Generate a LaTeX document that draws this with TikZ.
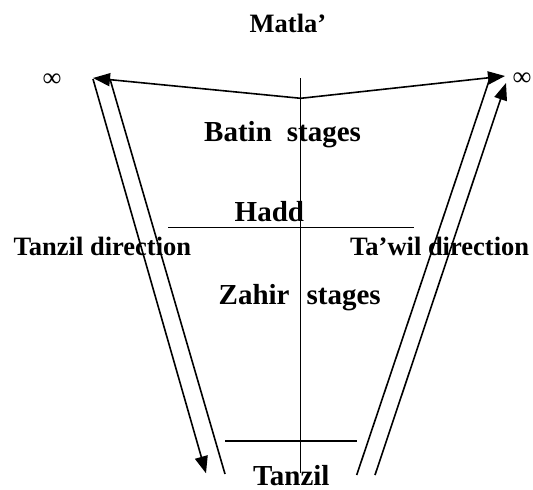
\documentclass[tikz,border=0pt]{standalone}
\usepackage{fontspec}
\setmainfont{Liberation Serif}
\usetikzlibrary{arrows.meta}
\begin{document}
\begin{tikzpicture}[x=1pt,y=1pt,
  lbl/.style={inner sep=0pt,anchor=base west,font=\fontsize{26.5}{30}\selectfont\bfseries},
  biglbl/.style={inner sep=0pt,anchor=base west,font=\fontsize{29}{32}\selectfont\bfseries},
  inf/.style={inner sep=0pt,font=\fontsize{26.5}{30}\selectfont},
  ln/.style={line width=1.6pt},
  axis/.style={line width=1.2pt},
  arr/.style={line width=1.6pt,-{Triangle[length=17pt,width=13pt]}}]
\useasboundingbox (0,0) rectangle (533,-490);
% coordinates
\coordinate (vtop) at (300.7,-78.3);
\coordinate (vbot) at (300.7,-473);
\coordinate (apex) at (300.7,-98.3);
\coordinate (tl) at (93,-78);
\coordinate (tr) at (505,-76);
\coordinate (lo1) at (93,-79);
\coordinate (lo2) at (206,-473.3);
\coordinate (li1) at (110,-79);
\coordinate (li2) at (225,-474);
\coordinate (ra1) at (356.7,-475);
\coordinate (ra2) at (490,-78);
\coordinate (rb1) at (375,-475);
\coordinate (rb2) at (506,-83);
\coordinate (h1) at (168,-227.4);
\coordinate (h2) at (414,-227.4);
\coordinate (b1) at (225,-441);
\coordinate (b2) at (356.7,-441);
% texts
\node[lbl] (matla) at (249.5,-32) {Matla’};
\node[inf] (infl) at (52,-80) {∞};
\node[inf] (infr) at (522,-79) {∞};
\node[biglbl] (batin) at (204,-141) {Batin\hspace{15pt}stages};
\node[biglbl] (hadd) at (234.5,-221) {Hadd};
\node[lbl] (tdir) at (13.5,-255.3) {Tanzil direction};
\node[lbl] (tawil) at (350,-255.3) {Ta’wil direction};
\node[biglbl] (zahir) at (218.5,-304) {Zahir\hspace{17pt}stages};
\node[biglbl] (tanzil) at (253,-485.5) {Tanzil};
% lines
\draw[axis] (vtop) -- (vbot);
\draw[arr] (apex) -- (tl);
\draw[arr] (apex) -- (tr);
\draw[arr] (lo1) -- (lo2);
\draw[ln] (li1) -- (li2);
\draw[ln] (ra1) -- (ra2);
\draw[arr] (rb1) -- (rb2);
\draw[ln] (h1) -- (h2);
\draw[ln] (b1) -- (b2);
\end{tikzpicture}
\end{document}
